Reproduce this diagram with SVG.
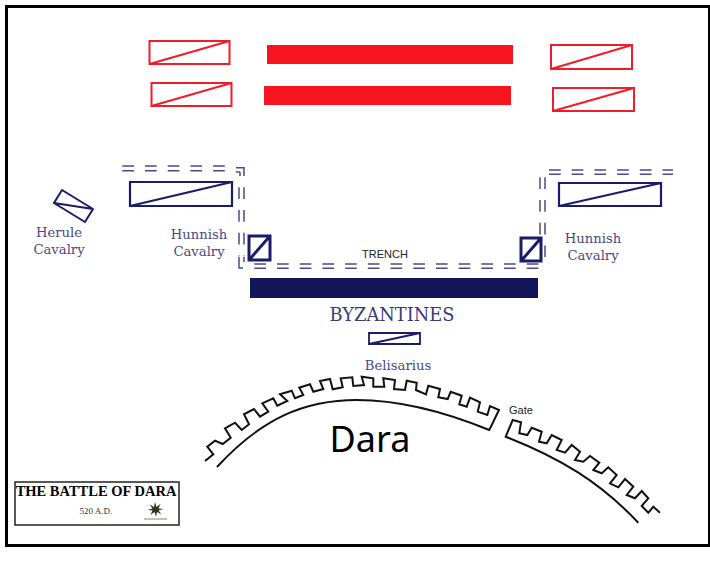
<svg xmlns="http://www.w3.org/2000/svg" width="710" height="564" viewBox="0 0 710 564">
<style>
.r{fill:#fff;stroke:#f01c2a;stroke-width:2}
.b{fill:#fff;stroke:#1b1b6b;stroke-width:2.200}
.tr{fill:none;stroke:#4a4a8a;stroke-width:1.500;stroke-dasharray:11.700 11}
.c{fill:none;stroke:#4a4a8a;stroke-width:1.500}
.w{fill:none;stroke:#111;stroke-width:2;stroke-linejoin:miter}
.l{font-family:"DejaVu Serif","Liberation Serif",serif;fill:#4a4a85;font-size:13.200px;text-anchor:middle}
.s{font-family:"Liberation Sans",Arial,sans-serif;fill:#222;text-anchor:middle}
</style>
<rect x="6.500" y="6.500" width="703" height="539" fill="#fff" stroke="#000" stroke-width="3"/>
<g id="red-units">
<path class="r" d="M149.500 41h80v23h-80zM149.500 64l80-23M151.500 83h80v23h-80zM151.500 106l80-23M551 45h81v24h-81zM551 69l81-24M553 88h81v23h-81zM553 111l81-23"/>
<rect x="267" y="45" width="246" height="19" fill="#f7141f"/>
<rect x="264" y="86" width="247" height="19" fill="#f7141f"/>
</g>
<g id="connectors">
<path class="tr" d="M122.300 166H236M122.300 170.700H236"/>
<path class="c" d="M236 167.700H244V176M240 172V176M236 172H240"/>
<path class="tr" d="M239 187.300V256M244 187.300V256"/>
<path class="c" d="M239 256.700V268H243M244 256.700V262"/>
<path class="tr" d="M254.300 264H540M254.300 268.300H540"/>
<path class="tr" d="M540 177.300V235M545 177.300V257"/>
<path class="tr" d="M549 170H673M549 174.300H673"/>
</g>
<g id="byzantines">
<rect x="250" y="278" width="288" height="20" fill="#14145a"/>
<text x="392" y="321" text-anchor="middle" font-family="DejaVu Serif,serif" font-size="17.800" fill="#3a3a7a">BYZANTINES</text>
</g>
<g id="herule"><path class="b" style="stroke-width:2" d="M62 190L93 209L85 222L54 203zM54 203L93 209"/><text class="l" x="59" y="237">Herule</text><text class="l" x="59" y="254">Cavalry</text></g>
<g id="hunnish-left"><path class="b" d="M130 182h102v24h-102zM130 206l102-24"/><text class="l" x="199" y="239">Hunnish</text><text class="l" x="199" y="256">Cavalry</text><path class="b" style="stroke-width:3" d="M249 236h21v24h-21zM249 260l21-24"/></g>
<g id="hunnish-right"><path class="b" d="M559 183h102v23h-102zM559 206l102-23"/><text class="l" x="593" y="243">Hunnish</text><text class="l" x="593" y="260">Cavalry</text><path class="b" style="stroke-width:3" d="M521 238h20v23h-20zM521 261l20-23"/></g>
<g id="belisarius"><path class="b" style="stroke-width:1.800" d="M369 333h51v11h-51zM369 344l51-11"/><text class="l" x="398" y="370">Belisarius</text></g>
<g id="trench"><text class="s" x="385" y="258" style="font-size:11px">TRENCH</text></g>
<g id="dara">
<path class="w" d="M217 467C262 418 305 400 357 400C400 400 445 412 489.300 430L499 410L490 406L487.300 415L477.700 411.700L480 402.300L470 397.700L466.700 406.700L459.300 404.300L461.700 395.700L450.700 391.700L447.700 399L438.300 397.300L440 389L428.300 385.700L426 394.300L416 390L416.700 382.700L406.700 380.700L405 390L394 389L395 380L383.300 378.300L384.300 386.700L373.300 386.700L373.300 378.300L361.700 376.700L364 385L353.300 386L352.300 377.300L340.700 378.300L342.700 387.300L332.700 389.300L330 379L320 381L323.300 389L313.300 391.700L310 384.300L299.300 387.700L303.300 395L295 398.300L291.700 390.700L280 394.300L287.300 401L277.300 405.700L273.300 398.300L262.300 403.300L268.300 411.700L260 416.700L254 409L244 414.300L249 424.300L241.700 430L235 422.700L225 428.300L230.700 437.700L222.700 444L215 440.700L207.300 446.700L213.300 454.300L205 461"/>
<text x="370" y="452" text-anchor="middle" font-family="Noto Sans,sans-serif" font-size="36" fill="#000">Dara</text>
<text class="s" x="521" y="414" style="font-size:11px">Gate</text>
<path class="w" d="M638.300 522.700C600 482 560 458 505.700 436.700L512.700 420L521 422.300L519.300 433.300L527.300 435L531.700 427.700L541.700 431.700L539 441.700L546.700 443.300L551.700 435L561.700 440L556.700 450L565 452.700L571.700 445L580 451.700L575 460L583.300 461.700L590 456L599.300 462.700L593.300 470L601.700 473.300L608.300 467.300L616.700 475L610 483.300L618.300 487.300L625 479L633.300 486.700L626.700 495L635 498.300L641.700 491L648.300 498.300L641.700 506L648.300 512.700L653.300 506.700L660 512.700"/>
</g>
<g id="title">
<rect x="15" y="482" width="164" height="43" fill="#fff" stroke="#222" stroke-width="1.500"/>
<text x="96" y="496" text-anchor="middle" font-family="Liberation Serif,serif" font-weight="bold" font-size="14.500" fill="#000">THE BATTLE OF DARA</text>
<text x="96" y="514" text-anchor="middle" font-family="Liberation Serif,serif" font-size="9" fill="#333">520 A.D.</text>
<path d="M155 502l1.500 5 4-3-2 4.500 5 .5-5 1.500 3 4-4.500-2.500-1 5-1.500-5-4 3 2-4.500-5-.5 5-1.500-3-4 4.500 2.500z" fill="#2c3a1c"/>
<path d="M144 519H167" stroke="#7f8a68" stroke-width="1"/>
</g>
</svg>
